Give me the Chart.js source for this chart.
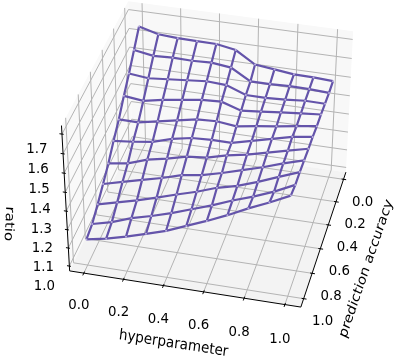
<!DOCTYPE html>
<html>
<head>
<meta charset="utf-8">
<style>
	html, body { margin: 0; padding: 0; background: #ffffff; }
	canvas { display: block; }
</style>
<script src="https://cdn.jsdelivr.net/npm/chart.js@4/dist/chart.umd.min.js"></script>
</head>
<body>
<canvas id="myChart" width="394" height="358"></canvas>
<script>
// Data

var Hyper = [0.0, 0.1, 0.2, 0.3, 0.4, 0.5, 0.6, 0.7, 0.8, 0.9, 1.0];
var Accuracy = [0.0, 0.1, 0.2, 0.3, 0.4, 0.5, 0.6, 0.7, 0.8, 0.9, 1.0];

var Ratio_0 = [1.655, 1.628, 1.621, 1.619, 1.618, 1.600, 1.537, 1.525, 1.513, 1.511, 1.505];
var Ratio_1 = [1.586, 1.569, 1.573, 1.571, 1.575, 1.563, 1.504, 1.504, 1.507, 1.506, 1.500];
var Ratio_2 = [1.517, 1.506, 1.515, 1.524, 1.533, 1.527, 1.489, 1.488, 1.493, 1.502, 1.501];
var Ratio_3 = [1.455, 1.443, 1.463, 1.477, 1.492, 1.497, 1.464, 1.474, 1.484, 1.494, 1.503];
var Ratio_4 = [1.387, 1.386, 1.407, 1.427, 1.447, 1.452, 1.440, 1.456, 1.470, 1.486, 1.501];
var Ratio_5 = [1.332, 1.342, 1.357, 1.388, 1.408, 1.413, 1.413, 1.438, 1.464, 1.490, 1.505];
var Ratio_6 = [1.271, 1.287, 1.323, 1.344, 1.370, 1.380, 1.407, 1.427, 1.453, 1.479, 1.504];
var Ratio_7 = [1.222, 1.249, 1.276, 1.302, 1.333, 1.349, 1.376, 1.407, 1.438, 1.474, 1.505];
var Ratio_8 = [1.175, 1.202, 1.229, 1.260, 1.293, 1.324, 1.361, 1.387, 1.424, 1.466, 1.507];
var Ratio_9 = [1.133, 1.160, 1.198, 1.226, 1.258, 1.295, 1.332, 1.374, 1.411, 1.453, 1.504];
var Ratio_10 = [1.115, 1.136, 1.164, 1.196, 1.229, 1.272, 1.315, 1.362, 1.414, 1.461, 1.513];
var Ratio = [Ratio_0, Ratio_1, Ratio_2, Ratio_3, Ratio_4, Ratio_5, Ratio_6, Ratio_7, Ratio_8, Ratio_9, Ratio_10];

var XTicks = [0.0, 0.2, 0.4, 0.6, 0.8, 1.0];
var YTicks = [0.0, 0.2, 0.4, 0.6, 0.8, 1.0];
var ZTicks = [1.0, 1.1, 1.2, 1.3, 1.4, 1.5, 1.6, 1.7];

// Axis limits of the 3D box
var XLim = [-0.072, 1.078];
var YLim = [-0.065, 1.065];
var ZLim = [0.973, 1.743];

// Perspective camera, box coordinates to canvas pixels
var Cam = {
	O: [131.05, 140.44],
	U: [211.67, 28.46],
	V: [-69.41, 110.72],
	W: [-10.6, -143],
	a: -0.018, b: -0.08, c: -0.05
	};

function project(x, y, z) {
	var u = (x - XLim[0]) / (XLim[1] - XLim[0]);
	var v = (y - YLim[0]) / (YLim[1] - YLim[0]);
	var w = (z - ZLim[0]) / (ZLim[1] - ZLim[0]);
	var d = 1 + Cam.a * u + Cam.b * v + Cam.c * w;
	return {
		x: (Cam.O[0] + u * Cam.U[0] + v * Cam.V[0] + w * Cam.W[0]) / d,
		y: (Cam.O[1] + u * Cam.U[1] + v * Cam.V[1] + w * Cam.W[1]) / d
		};
	}

// Datasets

var Sets = [];

function add_line(points, color, width, order) {
	Sets.push({
		data: points,
		showLine: true,
		borderColor: color,
		borderWidth: width,
		pointRadius: 0,
		fill: false,
		tension: 0,
		clip: false,
		order: order
		});
	}

var GRID = "rgb(180, 180, 180)";
var MESH = "rgb(100, 84, 170)";
var NODE = "rgb(186, 176, 222)";

// grid lines on floor and walls
XTicks.forEach(function (t) {
	add_line([project(t, YLim[1], ZLim[0]), project(t, YLim[0], ZLim[0]), project(t, YLim[0], ZLim[1])], GRID, 1, 5);
	});
YTicks.forEach(function (t) {
	add_line([project(XLim[1], t, ZLim[0]), project(XLim[0], t, ZLim[0]), project(XLim[0], t, ZLim[1])], GRID, 1, 5);
	});
ZTicks.forEach(function (t) {
	add_line([project(XLim[0], YLim[1], t), project(XLim[0], YLim[0], t), project(XLim[1], YLim[0], t)], GRID, 1, 5);
	});

// axis lines and tick marks
add_line([project(XLim[0], YLim[1], ZLim[0]), project(XLim[1], YLim[1], ZLim[0])], "#000000", 1, 4);
add_line([project(XLim[1], YLim[1], ZLim[0]), project(XLim[1], YLim[0], ZLim[0])], "#000000", 1, 4);
add_line([project(XLim[0], YLim[1], ZLim[0]), project(XLim[0], YLim[1], ZLim[1])], "#000000", 1, 4);
XTicks.forEach(function (t) {
	add_line([project(t, YLim[1] - 0.012, ZLim[0]), project(t, YLim[1] + 0.018, ZLim[0])], "#000000", 1, 4);
	});
YTicks.forEach(function (t) {
	add_line([project(XLim[1] - 0.01, t, ZLim[0]), project(XLim[1] + 0.014, t, ZLim[0])], "#000000", 1, 4);
	});
ZTicks.forEach(function (t) {
	add_line([project(XLim[0] + 0.008, YLim[1], t), project(XLim[0] - 0.012, YLim[1], t)], "#000000", 1, 4);
	});

// wireframe
var Nodes = [];
for (var j = 0; j < Accuracy.length; j++) {
	var row = [];
	for (var i = 0; i < Hyper.length; i++) {
		var p = project(Hyper[i], Accuracy[j], Ratio[j][i]);
		row.push(p);
		Nodes.push(p);
		}
	add_line(row, MESH, 2.2, 1);
	}
for (var i = 0; i < Hyper.length; i++) {
	var col = [];
	for (var j = 0; j < Accuracy.length; j++) {
		col.push(project(Hyper[i], Accuracy[j], Ratio[j][i]));
		}
	add_line(col, MESH, 2.2, 1);
	}
Sets.push({
	data: Nodes,
	showLine: false,
	pointRadius: 1,
	pointBorderWidth: 0,
	pointBackgroundColor: NODE,
	clip: false,
	order: 0
	});

// Panes and text, drawn with the chart's own scales

function to_px(chart, p) {
	return { x: chart.scales.x.getPixelForValue(p.x), y: chart.scales.y.getPixelForValue(p.y) };
	}

function fill_pane(chart, corners, color) {
	var ctx = chart.ctx;
	ctx.fillStyle = color;
	ctx.beginPath();
	corners.forEach(function (c, n) {
		var p = to_px(chart, c);
		if (n == 0) ctx.moveTo(p.x, p.y);
		else ctx.lineTo(p.x, p.y);
		});
	ctx.closePath();
	ctx.fill();
	}

// the reference text is a little narrower than it is tall, hence squeeze
function put_text(chart, text, p, dx, dy, angle, squeeze) {
	var ctx = chart.ctx;
	var q = to_px(chart, p);
	ctx.save();
	ctx.translate(q.x + dx, q.y + dy);
	ctx.scale(squeeze, 1);
	ctx.rotate(angle * Math.PI / 180);
	ctx.fillText(text, 0, 0);
	ctx.restore();
	}

var box_plugin = {
	id: "box",
	beforeDatasetsDraw: function (chart) {
		var x0 = XLim[0], x1 = XLim[1], y0 = YLim[0], y1 = YLim[1], z0 = ZLim[0], z1 = ZLim[1];
		fill_pane(chart, [project(x0, y0, z0), project(x0, y1, z0), project(x0, y1, z1), project(x0, y0, z1)], "#f9f9f9");
		fill_pane(chart, [project(x0, y0, z0), project(x1, y0, z0), project(x1, y0, z1), project(x0, y0, z1)], "#f8f8f8");
		fill_pane(chart, [project(x0, y0, z0), project(x1, y0, z0), project(x1, y1, z0), project(x0, y1, z0)], "#f3f3f3");
		},
	afterDraw: function (chart) {
		var ctx = chart.ctx;
		ctx.save();
		ctx.fillStyle = "#000000";
		ctx.font = "14.5px 'DejaVu Sans'";
		ctx.textAlign = "center";
		ctx.textBaseline = "middle";
		XTicks.forEach(function (t) {
			put_text(chart, t.toFixed(1), project(t, YLim[1], ZLim[0]), -5, 32 + 3 * t, 0, 0.92);
			});
		YTicks.forEach(function (t) {
			put_text(chart, t.toFixed(1), project(XLim[1], t, ZLim[0]), 19, 22.5, 0, 0.92);
			});
		ZTicks.forEach(function (t) {
			put_text(chart, t.toFixed(1), project(XLim[0], YLim[1], t), -25, 15 + (1.7 - t) * 7, 0, 0.92);
			});
		ctx.font = "15px 'DejaVu Sans'";
		put_text(chart, "hyperparameter", project(0.5, YLim[1], ZLim[0]), -10, 55, 8, 0.9);
		put_text(chart, "prediction accuracy", project(XLim[1], 0.5, ZLim[0]), 42, 32, -68, 0.85);
		put_text(chart, "ratio", project(XLim[0], YLim[1], 1.35), -57, 22, 93, 0.85);
		ctx.restore();
		}
	};

// Chart

var Ctxt = document.getElementById("myChart").getContext("2d");

var ChartInst = new Chart(Ctxt, {
	type: "scatter",
	data: { datasets: Sets },
	plugins: [box_plugin],
	options: {
		responsive: false,
		animation: false,
		layout: { padding: 0 },
		plugins: {
			legend: { display: false },
			tooltip: { enabled: false }
			},
		scales: {
			x: { type: "linear", display: false, min: 0, max: 394 },
			y: { type: "linear", display: false, min: 0, max: 358, reverse: true }
			}
		}
	});
</script>
</body>
</html>
